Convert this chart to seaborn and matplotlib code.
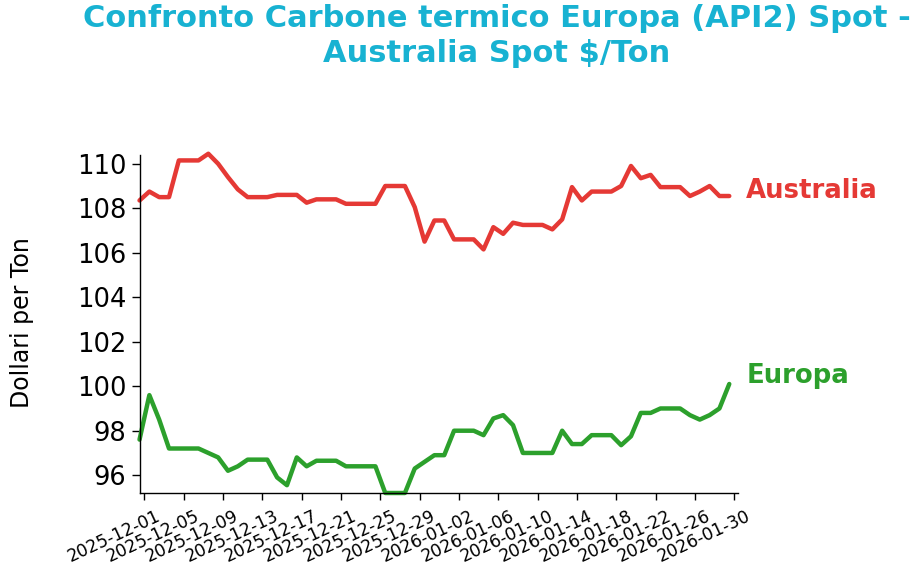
import matplotlib
matplotlib.use("Agg")
import matplotlib.pyplot as plt
import matplotlib.dates as mdates
import matplotlib.transforms as mtransforms
import seaborn as sns
import pandas as pd

# ---- data ----
start_date = "2025-11-30 12:00"
n_days = 61
australia = [108.35, 108.75, 108.5, 108.5, 110.15, 110.15, 110.15, 110.45, 110.0, 109.4,
             108.85, 108.5, 108.5, 108.5, 108.6, 108.6, 108.6, 108.25, 108.4, 108.4,
             108.4, 108.2, 108.2, 108.2, 108.2, 109.0, 109.0, 109.0, 108.05, 106.5,
             107.45, 107.45, 106.6, 106.6, 106.6, 106.15, 107.15, 106.85, 107.35, 107.25,
             107.25, 107.25, 107.05, 107.5, 108.95, 108.35, 108.75, 108.75, 108.75, 109.0,
             109.9, 109.35, 109.5, 108.95, 108.95, 108.95, 108.55, 108.75, 109.0, 108.55,
             108.55]
europa = [97.6, 99.6, 98.5, 97.2, 97.2, 97.2, 97.2, 97.0, 96.8, 96.2,
          96.4, 96.7, 96.7, 96.7, 95.9, 95.55, 96.8, 96.4, 96.65, 96.65,
          96.65, 96.4, 96.4, 96.4, 96.4, 95.2, 95.2, 95.2, 96.3, 96.6,
          96.9, 96.9, 98.0, 98.0, 98.0, 97.8, 98.55, 98.7, 98.25, 97.0,
          97.0, 97.0, 97.0, 98.0, 97.4, 97.4, 97.8, 97.8, 97.8, 97.35,
          97.75, 98.8, 98.8, 99.0, 99.0, 99.0, 98.7, 98.5, 98.7, 99.0,
          100.1]
series_names = ["Australia", "Europa"]
series_colors = ["#e53935", "#2ca02c"]
title = "Confronto Carbone termico Europa (API2) Spot -\nAustralia Spot $/Ton"
ylabel = "Dollari per Ton"
yticks = [96, 98, 100, 102, 104, 106, 108, 110]
xtick_start, xtick_end, xtick_step = "2025-12-01", "2026-01-30", "4D"

dates = pd.date_range(start_date, periods=n_days, freq="D")
df = pd.DataFrame({"date": list(dates) * 2,
                   "value": australia + europa,
                   "serie": [series_names[0]] * n_days + [series_names[1]] * n_days})

sns.set_style("ticks")
plt.rcParams["font.family"] = ["DejaVu Sans"]

fig = plt.figure(figsize=(9.24, 5.8), dpi=100)
ax = fig.add_axes([0.151, 0.15, 0.648, 0.583])

sns.lineplot(data=df, x="date", y="value", hue="serie",
             palette=dict(zip(series_names, series_colors)),
             linewidth=3.2, ax=ax, legend=False)
for ln in ax.get_lines():
    ln.set_clip_on(False)
    ln.set_solid_joinstyle("round")
    ln.set_solid_capstyle("round")

ax.set_xlim(dates[0], dates[-1] + pd.Timedelta(hours=22))
ax.set_ylim(95.2, 110.4)
ax.set_yticks(yticks)
ticks = pd.date_range(xtick_start, xtick_end, freq=xtick_step)
ax.set_xticks(ticks)
ax.xaxis.set_major_formatter(mdates.DateFormatter("%Y-%m-%d"))
ax.tick_params(axis="x", labelsize=12.4, length=5, width=1, colors="black")
ax.tick_params(axis="y", labelsize=18.5, length=6, width=1, colors="black")
ax.set_xlabel("")
ax.set_ylabel(ylabel, fontsize=17, color="black")
ax.yaxis.set_label_coords(-0.176, 0.503)
sns.despine(ax=ax)
for s in ["left", "bottom"]:
    ax.spines[s].set_linewidth(1)
    ax.spines[s].set_color("black")

shift = mtransforms.ScaledTranslation(0.11, -0.025, fig.dpi_scale_trans)
for tick in ax.xaxis.get_major_ticks():
    lab = tick.label1
    lab.set_rotation(25)
    lab.set_ha("right")
    lab.set_rotation_mode("anchor")
    lab.set_transform(lab.get_transform() + shift)

offsets = {series_names[0]: 5, series_names[1]: 8}
for name, vals, col in zip(series_names, [australia, europa], series_colors):
    ax.annotate(name, xy=(dates[-1], vals[-1]), xytext=(17, offsets[name]),
                textcoords="offset pixels", color=col, fontsize=18.7,
                fontweight="bold", va="center", ha="left", annotation_clip=False)

fig.suptitle(title, x=0.538, y=0.993, va="top", ha="center",
             fontsize=22, fontweight="bold", color="#18b2d2", linespacing=1.28)

fig.savefig("out.png", dpi=100)
